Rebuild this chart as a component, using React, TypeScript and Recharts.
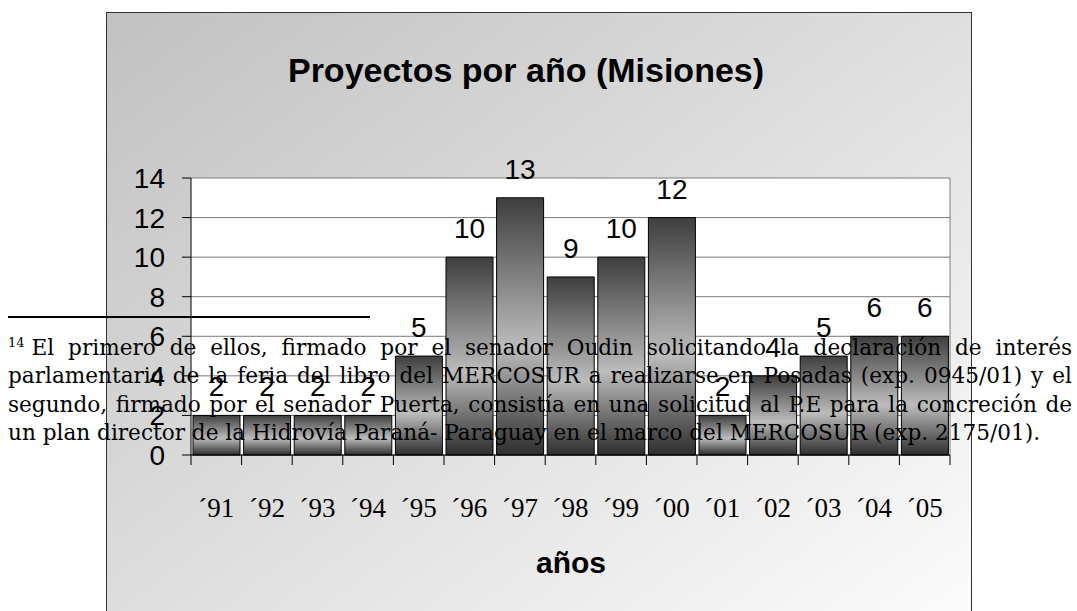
import React from 'react';
import { Bar, BarChart, CartesianGrid, LabelList, XAxis, YAxis } from 'recharts';

const years = ['´91', '´92', '´93', '´94', '´95', '´96', '´97', '´98', '´99', '´00', '´01', '´02', '´03', '´04', '´05'];
const proyectos = [2, 2, 2, 2, 5, 10, 13, 9, 10, 12, 2, 4, 5, 6, 6];
const yTicks = [0, 2, 4, 6, 8, 10, 12, 14];

const title = 'Proyectos por año (Misiones)';
const axisTitle = 'años';
const footnoteLines = [
  'El primero de ellos, firmado por el senador Oudin solicitando la declaración de interés',
  'parlamentario de la feria del libro del MERCOSUR a realizarse en Posadas (exp. 0945/01) y el',
  'segundo, firmado por el senador Puerta, consistía en una solicitud al P.E para la concreción de',
  'un plan director de la Hidrovía Paraná- Paraguay en el marco del MERCOSUR (exp. 2175/01).',
];

const chartData = years.map((year, i) => ({ year, value: proyectos[i] }));

const W = 864;
const H = 620;
const margin = { top: 165, right: 21, bottom: 118, left: 24 };
const Y_W = 60;
const X_H = 60;
const BAND = (W - margin.left - Y_W - margin.right) / years.length;

const sans = '"Liberation Sans", Arial, sans-serif';
const serif = '"Liberation Serif", "Times New Roman", serif';

const YearTick = (props: any) => {
  const { x, y, payload, index } = props;
  return (
    <g>
      <line x1={x - BAND / 2} x2={x - BAND / 2} y1={y} y2={y + 10} stroke="#000" />
      {index === years.length - 1 && (
        <line x1={x + BAND / 2} x2={x + BAND / 2} y1={y} y2={y + 10} stroke="#000" />
      )}
      <text x={x} y={y + 62} textAnchor="middle" fontFamily={serif} fontSize={27} fill="#000">
        {payload.value}
      </text>
    </g>
  );
};

export default function App() {
  return (
    <div style={{ position: 'absolute', left: 0, top: 0, width: 1077, height: 611, overflow: 'hidden', background: '#fff' }}>
      <div
        style={{
          position: 'absolute',
          left: 106,
          top: 12,
          width: 866,
          height: 640,
          boxSizing: 'border-box',
          border: '1px solid #333',
          background: 'linear-gradient(to bottom right, #c1c1c1, #fdfdfd)',
        }}
      >
        <BarChart width={W} height={H} data={chartData} margin={margin} barCategoryGap={2}>
          <defs>
            <linearGradient id="barFill" x1="0" y1="0" x2="0" y2="1">
              <stop offset="0%" stopColor="#3e3e3e" />
              <stop offset="58%" stopColor="#bcbcbc" />
              <stop offset="100%" stopColor="#2e2e2e" />
            </linearGradient>
          </defs>
          <CartesianGrid
            fill="#fff"
            stroke="#7a7a7a"
            verticalCoordinatesGenerator={({ offset }: any) => [offset.left + offset.width]}
          />
          <XAxis
            dataKey="year"
            height={X_H}
            interval={0}
            tickSize={0}
            tickMargin={0}
            tickLine={false}
            axisLine={{ stroke: '#000' }}
            tick={<YearTick />}
          />
          <YAxis
            width={Y_W}
            domain={[0, 14]}
            ticks={yTicks}
            interval={0}
            tickSize={9}
            tickMargin={17}
            axisLine={{ stroke: '#000' }}
            tickLine={{ stroke: '#000' }}
            tick={{ fill: '#000', fontSize: 28, fontFamily: sans }}
          />
          <Bar dataKey="value" fill="url(#barFill)" stroke="#000" strokeWidth={1} isAnimationActive={false}>
            <LabelList dataKey="value" position="top" offset={19} fill="#000" fontSize={28} fontFamily={sans} />
          </Bar>
        </BarChart>
      </div>
      <svg width={1077} height={611} style={{ position: 'absolute', left: 0, top: 0, pointerEvents: 'none' }}>
        <text x={526} y={82} textAnchor="middle" fontFamily={sans} fontWeight="bold" fontSize={34} fill="#000">
          {title}
        </text>
        <text x={571} y={573} textAnchor="middle" fontFamily={sans} fontWeight="bold" fontSize={30} fill="#000">
          {axisTitle}
        </text>
        <line x1={8} x2={370} y1={317} y2={317} stroke="#000" strokeWidth={2} />
      </svg>
      <div
        style={{
          position: 'absolute',
          left: 8,
          top: 334,
          width: 1064,
          fontFamily: '"DejaVu Serif", serif',
          fontSize: 21.6,
          lineHeight: '28.4px',
          color: '#000',
        }}
      >
        {footnoteLines.map((line, i) => (
          <div
            key={i}
            style={{
              textAlign: i < footnoteLines.length - 1 ? 'justify' : 'left',
              textAlignLast: i < footnoteLines.length - 1 ? 'justify' : 'left',
              whiteSpace: 'nowrap',
            }}
          >
            {i === 0 && (
              <span style={{ fontSize: 13, verticalAlign: 'top', lineHeight: '18px', marginRight: 7 }}>14</span>
            )}
            {line}
          </div>
        ))}
      </div>
    </div>
  );
}
